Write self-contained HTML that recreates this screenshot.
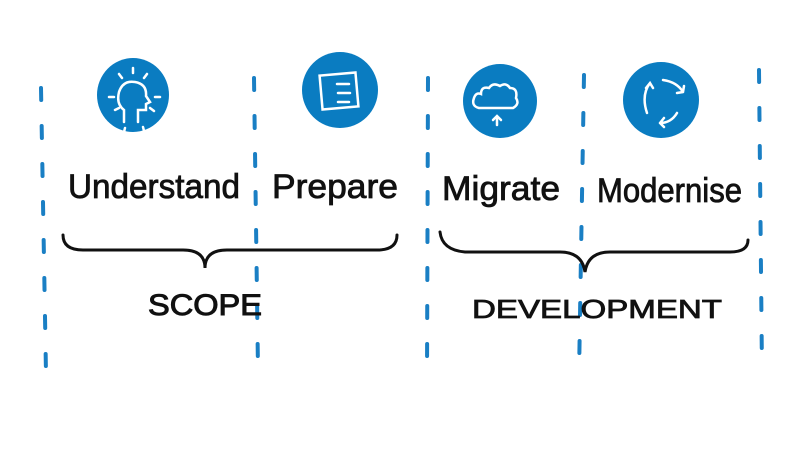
<!DOCTYPE html>
<html><head><style>
html,body{margin:0;padding:0;background:#fff;}
svg{display:block}
text{font-family:"Liberation Sans",sans-serif;fill:#111;}
</style></head><body>
<svg width="800" height="450" viewBox="0 0 800 450">
<g stroke="#1a7fc4" stroke-width="4" stroke-linecap="round" stroke-dasharray="12 26" fill="none">
<line x1="41" y1="88" x2="46" y2="374"/>
<line x1="254" y1="78" x2="258" y2="370"/>
<line x1="428" y1="78" x2="427" y2="378"/>
<line x1="584" y1="75" x2="579" y2="376"/>
<line x1="759" y1="70" x2="762" y2="372"/>
</g>
<g fill="#0a7cc1">
<ellipse cx="133" cy="95" rx="36" ry="37"/>
<ellipse cx="340" cy="90" rx="38" ry="38"/>
<ellipse cx="500" cy="101" rx="37" ry="37"/>
<ellipse cx="661" cy="100" rx="38" ry="38"/>
</g>
<g stroke="#fff" stroke-width="2.5" fill="none" stroke-linecap="round">
<path d="M124 122 v-12 q-8 -6 -5 -18 q4 -12 16 -10 q12 2 11 14 l4 6 -4 2 v6 h-8 v12"/>
<path d="M133 68 v5 M147 74 l-3 4 M119 74 l3 4 M109 97 h5 M155 97 h5 M115 110 l4 -2 M150 108 l4 3 M125 128 l-1 4 M143 127 l1 4"/>
<rect x="321" y="74" width="36" height="34" transform="rotate(-5 339 91)"/>
<path d="M337 84 h12 M338 93 h12 M338 102 h11"/>
<path d="M479 108 q-8 -2 -5 -10 q2 -6 7 -4 q0 -8 8 -6 q4 -6 11 -2 q6 -4 10 2 q8 0 6 10 q4 6 -3 10 z"/>
<path d="M497 125 v-8 M493 120 l4 -4 4 4"/>
<path d="M650 83 q-9 12 -3 30 M646 88 l4 -5 3 5 M663 80 q14 2 20 12 M683 92 l1 -6 M683 92 l-6 1 M677 113 q-6 10 -17 10 M660 123 l4 -5 M660 123 l4 4"/>
</g>
<g font-size="34" stroke="#111" stroke-width="0.8">
<text x="68" y="198" textLength="172" lengthAdjust="spacingAndGlyphs">Understand</text>
<text x="272" y="198" textLength="126" lengthAdjust="spacingAndGlyphs">Prepare</text>
<text x="442" y="200" textLength="118" lengthAdjust="spacingAndGlyphs">Migrate</text>
<text x="597" y="202" textLength="145" lengthAdjust="spacingAndGlyphs">Modernise</text>
</g>
<g stroke="#111" stroke-width="3" fill="none" stroke-linecap="round">
<path d="M63 235 q0 15 20 15 h100 q22 0 22 18 q0 -18 22 -18 h150 q20 0 20 -15"/>
<path d="M440 232 q2 18 25 20 h95 q22 0 25 20 q3 -20 25 -20 h120 q18 0 18 -12"/>
</g>
<text x="148" y="315" font-size="30" stroke="#111" stroke-width="1" textLength="114" lengthAdjust="spacingAndGlyphs">SCOPE</text>
<text x="472" y="318" font-size="26" stroke="#111" stroke-width="0.8" textLength="250" lengthAdjust="spacingAndGlyphs">DEVELOPMENT</text>
</svg>
</body></html>
